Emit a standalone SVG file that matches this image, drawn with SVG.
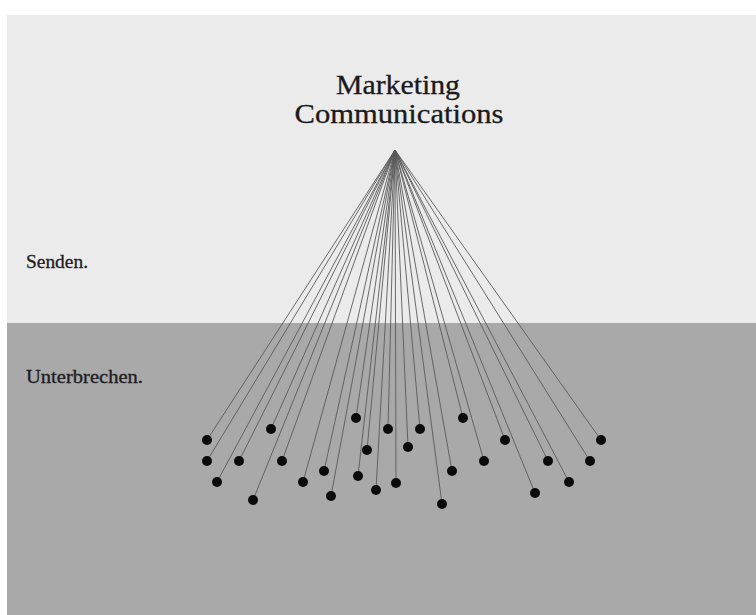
<svg xmlns="http://www.w3.org/2000/svg" width="756" height="615" viewBox="0 0 756 615">
  <style>
    .title { font-family: "Liberation Serif", "Times New Roman", serif; font-size: 28px; fill: #1a1a1a; stroke: #1a1a1a; stroke-width: 0.3; text-anchor: middle; }
    .side { font-family: "Liberation Serif", "Times New Roman", serif; font-size: 18px; fill: #1c1c22; stroke: #1c1c22; stroke-width: 0.3; }
    .ray { stroke: #5a5a5a; stroke-width: 0.9; fill: none; }
    .dot { fill: #0b0b0b; }
  </style>

  <!-- page background and the two bands -->
  <rect x="0" y="0" width="756" height="615" fill="#ffffff"/>
  <rect x="7" y="15" width="749" height="308" fill="#ebebec"/>
  <rect x="7" y="323" width="749" height="292" fill="#a9a9a9"/>

  <!-- source label -->
  <g id="source">
    <text class="title" x="398" y="94" textLength="124" lengthAdjust="spacingAndGlyphs">Marketing</text>
    <text class="title" x="399" y="123" textLength="209" lengthAdjust="spacingAndGlyphs">Communications</text>
  </g>

  <!-- band labels -->
  <g id="label-senden">
    <text class="side" x="26" y="268" textLength="62" lengthAdjust="spacingAndGlyphs">Senden.</text>
  </g>
  <g id="label-unterbrechen">
    <text class="side" x="26" y="383" textLength="117" lengthAdjust="spacingAndGlyphs">Unterbrechen.</text>
  </g>

  <!-- rays from the source to every receiver -->
  <g id="connectors" class="ray">
    <line x1="395" y1="150" x2="207" y2="440"/>
    <line x1="395" y1="150" x2="207" y2="461"/>
    <line x1="395" y1="150" x2="217" y2="482"/>
    <line x1="395" y1="150" x2="253" y2="500"/>
    <line x1="395" y1="150" x2="271" y2="429"/>
    <line x1="395" y1="150" x2="239" y2="461"/>
    <line x1="395" y1="150" x2="282" y2="461"/>
    <line x1="395" y1="150" x2="303" y2="482"/>
    <line x1="395" y1="150" x2="324" y2="471"/>
    <line x1="395" y1="150" x2="331" y2="496"/>
    <line x1="395" y1="150" x2="356" y2="418"/>
    <line x1="395" y1="150" x2="367" y2="450"/>
    <line x1="395" y1="150" x2="358" y2="476"/>
    <line x1="395" y1="150" x2="376" y2="490"/>
    <line x1="395" y1="150" x2="388" y2="429"/>
    <line x1="395" y1="150" x2="396" y2="483"/>
    <line x1="395" y1="150" x2="408" y2="447"/>
    <line x1="395" y1="150" x2="420" y2="429"/>
    <line x1="395" y1="150" x2="442" y2="504"/>
    <line x1="395" y1="150" x2="452" y2="471"/>
    <line x1="395" y1="150" x2="463" y2="418"/>
    <line x1="395" y1="150" x2="484" y2="461"/>
    <line x1="395" y1="150" x2="505" y2="440"/>
    <line x1="395" y1="150" x2="535" y2="493"/>
    <line x1="395" y1="150" x2="548" y2="461"/>
    <line x1="395" y1="150" x2="569" y2="482"/>
    <line x1="395" y1="150" x2="590" y2="461"/>
    <line x1="395" y1="150" x2="601" y2="440"/>
  </g>

  <!-- receivers -->
  <g id="receivers" class="dot">
    <circle id="r1" cx="207" cy="440" r="5"/>
    <circle id="r2" cx="207" cy="461" r="5"/>
    <circle id="r3" cx="217" cy="482" r="5"/>
    <circle id="r4" cx="253" cy="500" r="5"/>
    <circle id="r5" cx="271" cy="429" r="5"/>
    <circle id="r6" cx="239" cy="461" r="5"/>
    <circle id="r7" cx="282" cy="461" r="5"/>
    <circle id="r8" cx="303" cy="482" r="5"/>
    <circle id="r9" cx="324" cy="471" r="5"/>
    <circle id="r10" cx="331" cy="496" r="5"/>
    <circle id="r11" cx="356" cy="418" r="5"/>
    <circle id="r12" cx="367" cy="450" r="5"/>
    <circle id="r13" cx="358" cy="476" r="5"/>
    <circle id="r14" cx="376" cy="490" r="5"/>
    <circle id="r15" cx="388" cy="429" r="5"/>
    <circle id="r16" cx="396" cy="483" r="5"/>
    <circle id="r17" cx="408" cy="447" r="5"/>
    <circle id="r18" cx="420" cy="429" r="5"/>
    <circle id="r19" cx="442" cy="504" r="5"/>
    <circle id="r20" cx="452" cy="471" r="5"/>
    <circle id="r21" cx="463" cy="418" r="5"/>
    <circle id="r22" cx="484" cy="461" r="5"/>
    <circle id="r23" cx="505" cy="440" r="5"/>
    <circle id="r24" cx="535" cy="493" r="5"/>
    <circle id="r25" cx="548" cy="461" r="5"/>
    <circle id="r26" cx="569" cy="482" r="5"/>
    <circle id="r27" cx="590" cy="461" r="5"/>
    <circle id="r28" cx="601" cy="440" r="5"/>
  </g>
</svg>
